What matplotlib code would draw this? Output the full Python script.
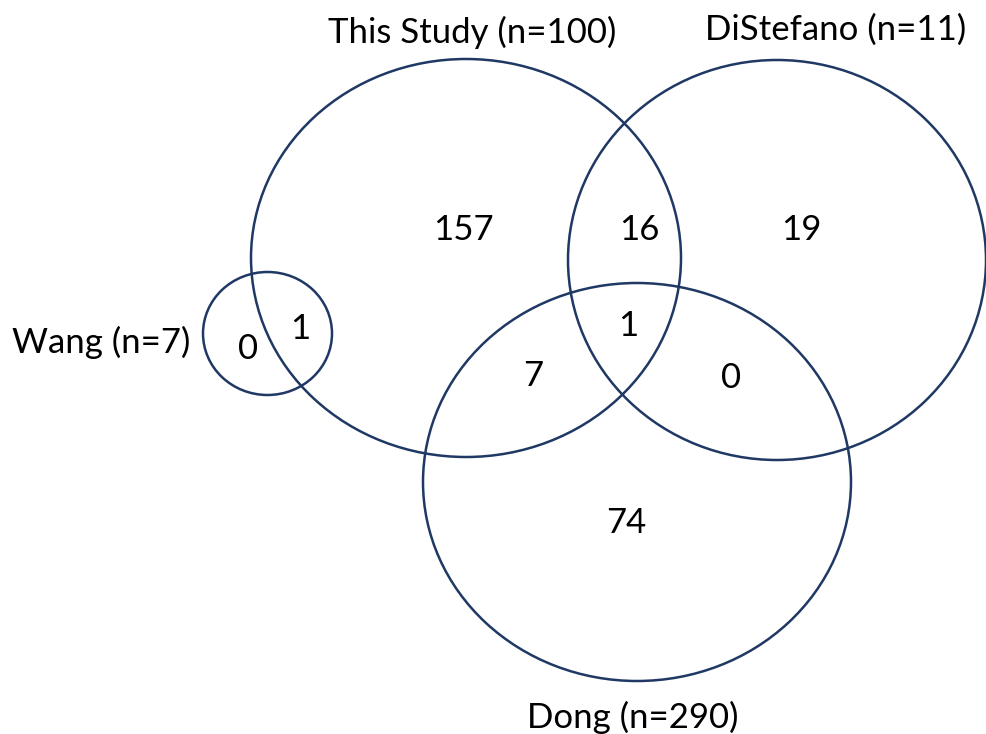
import matplotlib
matplotlib.use("Agg")
import matplotlib.pyplot as plt
from matplotlib.patches import Ellipse

# Set labels and region counts
set_names = ["This Study (n=100)", "DiStefano (n=11)", "Wang (n=7)", "Dong (n=290)"]
region_counts = ["157", "16", "19", "1", "7", "0", "74", "0", "1"]

# Ellipse geometry in pixel coords (center x, center y, half width, half height)
shapes = [
    (466, 258, 215, 199),   # This Study
    (777, 260, 209, 200),   # DiStefano
    (267.5, 333.5, 64.5, 61.5),  # Wang
    (637, 482, 214, 199),   # Dong
]
name_pos = [(472, 43), (836, 40), (101, 353), (633, 728)]
count_pos = [(463, 240), (639, 240), (801, 240), (628, 336), (533, 386),
             (731, 388), (626, 533), (248, 359), (300, 339)]

edge = "#1f3864"
plt.rcParams['font.family'] = ['Lato', 'DejaVu Sans']

fig = plt.figure(figsize=(9.86, 7.34), dpi=100)
ax = fig.add_axes([0, 0, 1, 1])
ax.set_xlim(0, 986)
ax.set_ylim(734, 0)
ax.axis('off')

for cx, cy, rx, ry in shapes:
    ax.add_patch(Ellipse((cx, cy), 2 * rx, 2 * ry, fill=False,
                         edgecolor=edge, linewidth=1.8))

for name, (x, y) in zip(set_names, name_pos):
    ax.text(x, y, name, ha='center', va='baseline', fontsize=25, color='black')

for c, (x, y) in zip(region_counts, count_pos):
    ax.text(x, y, c, ha='center', va='baseline', fontsize=25, color='black')

fig.savefig("out.png", dpi=100)
